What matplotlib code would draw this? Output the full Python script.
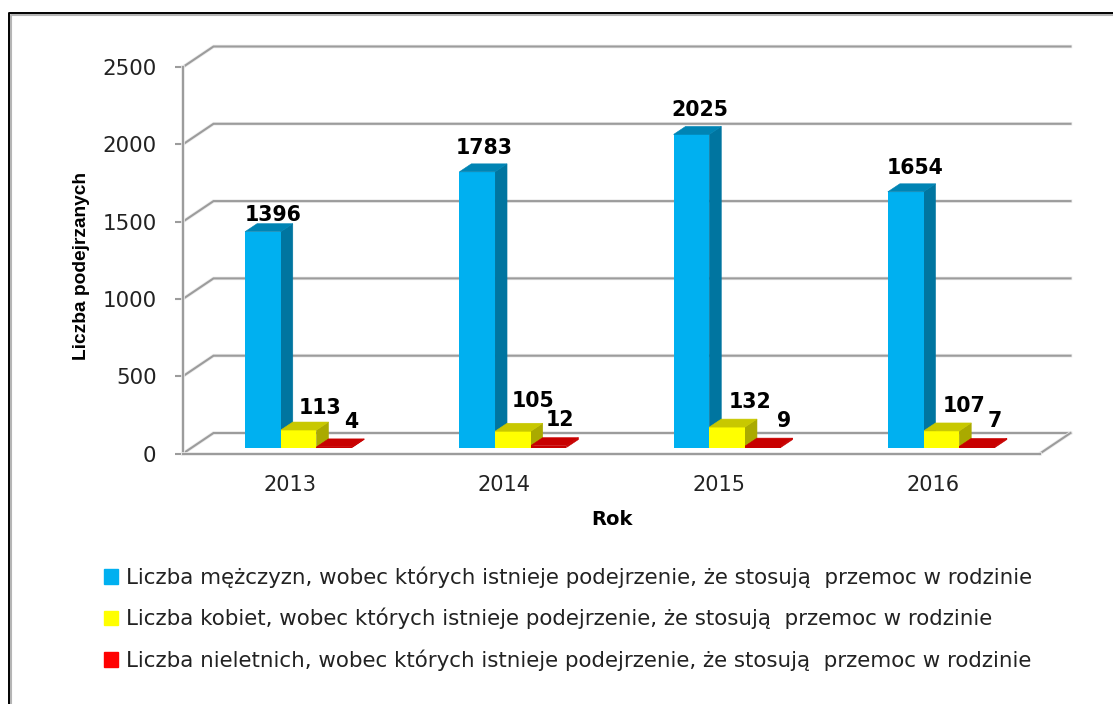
import matplotlib
matplotlib.use("Agg")
import matplotlib.pyplot as plt
import matplotlib.patheffects as pe
from matplotlib.lines import Line2D
from matplotlib.patches import Patch, Polygon

years = ["2013", "2014", "2015", "2016"]
men = [1396, 1783, 2025, 1654]
women = [113, 105, 132, 107]
minors = [4, 12, 9, 7]
y_ticks = [0, 500, 1000, 1500, 2000, 2500]

men_label = "Liczba mężczyzn, wobec których istnieje podejrzenie, że stosują  przemoc w rodzinie"
women_label = "Liczba kobiet, wobec których istnieje podejrzenie, że stosują  przemoc w rodzinie"
minors_label = "Liczba nieletnich, wobec których istnieje podejrzenie, że stosują  przemoc w rodzinie"

# label nudges in pixels, placed by hand in the original
men_nudge = [(10, 7), (7, 14), (8, 14), (9, 14)]
women_nudge = [(21, 12), (20, 20), (23, 15), (23, 15)]
minors_nudge = [(17, 15), (11, 16), (21, 15), (18, 15)]

GREY = "#9c9c9c"
TEXT = "#222222"
soft = [pe.withStroke(linewidth=2.6, foreground="#ececec")]

W, H = 1113, 704
fig = plt.figure(figsize=(W / 100, H / 100), dpi=100)
ax = fig.add_axes([183 / W, 1 - 453.5 / H, 857 / W, 386.5 / H])
ax.set_xlim(-0.5, 3.5)
ax.set_ylim(0, 2500)
ax.patch.set_alpha(0)

# pixels to data units, used for the fake 3D depth
ux = 4 / 857
uy = 2500 / 386.5
wall_dx, wall_dy = 30.5 * ux, 20.5 * uy
bar_dx, bar_dy = 8.5 * ux, 6 * uy
side_dx, side_dy = 12 * ux, 8 * uy
bar_w = 35.7 * ux

# back wall gridlines and floor
for t in y_ticks:
    ax.plot([-0.5, -0.5 + wall_dx, 3.5 + wall_dx], [t, t + wall_dy, t + wall_dy],
            color=GREY, lw=1.5, clip_on=False, zorder=1, solid_joinstyle="miter", path_effects=soft)
ax.plot([3.5, 3.5 + wall_dx], [0, wall_dy], color=GREY, lw=1.5, clip_on=False, zorder=1, path_effects=soft)


def draw_bars(pos, values, front, top, side, nudges):
    for i, v in enumerate(values):
        x0 = i + pos - bar_w / 2 + bar_dx
        x1 = x0 + bar_w
        y0 = bar_dy
        y1 = bar_dy + v
        ax.bar(x0, v, width=bar_w, bottom=y0, align="edge", color=front, zorder=3)
        ax.add_patch(Polygon([(x0, y1), (x1, y1), (x1 + side_dx, y1 + side_dy), (x0 + side_dx, y1 + side_dy)],
                             closed=True, color=top, lw=0.4, clip_on=False, zorder=3))
        ax.add_patch(Polygon([(x1, y0), (x1, y1), (x1 + side_dx, y1 + side_dy), (x1 + side_dx, y0 + side_dy)],
                             closed=True, color=side, lw=0.4, clip_on=False, zorder=2.5))
        ax.annotate(str(v), xy=((x0 + x1) / 2, y1), xytext=nudges[i], textcoords="offset pixels",
                    ha="center", va="bottom", fontsize=14.8, fontweight="bold", color="black",
                    annotation_clip=False, zorder=5)


# minors come first so the yellow side covers the back of the flat red bars
draw_bars(bar_w, minors, "#C80000", "#C80000", "#C80000", minors_nudge)
draw_bars(0, women, "#FFFF00", "#C8C800", "#AAAA00", women_nudge)
draw_bars(-bar_w, men, "#00B0F0", "#0084B4", "#0075A0", men_nudge)

for s in ["top", "right"]:
    ax.spines[s].set_visible(False)
for s in ["left", "bottom"]:
    ax.spines[s].set_color(GREY)
    ax.spines[s].set_linewidth(1.5)
    ax.spines[s].set_zorder(4)
    ax.spines[s].set_path_effects(soft)

ax.set_xticks(range(4), years)
ax.set_yticks(y_ticks)
ax.tick_params(axis="x", length=0, pad=15.5, labelsize=15, labelcolor=TEXT)
ax.tick_params(axis="y", length=6, width=1.5, color=GREY, pad=13, labelsize=15.4, labelcolor=TEXT)

ax.set_xlabel("Rok", fontsize=14, fontweight="bold", color="black", labelpad=11)
ax.set_ylabel("Liczba podejrzanych", fontsize=13.8, fontweight="bold", color="black",
              family="Liberation Sans")
ax.yaxis.set_label_coords(-0.108, 0.485)

handles = [Patch(color="#00B0F0", label=men_label),
           Patch(color="#FFFF00", label=women_label),
           Patch(color="#FF0000", label=minors_label)]
fig.legend(handles=handles, loc="upper left", bbox_to_anchor=(98 / W, 1 - 560 / H), frameon=False,
           fontsize=15.38, handlelength=0.65, handleheight=0.65, handletextpad=0.38,
           labelspacing=0.94, labelcolor=TEXT, borderaxespad=0, borderpad=0.3)

# chart frame, runs off the crop on the right and at the bottom
fig.add_artist(Line2D([10.5 / W, 10.5 / W, 1], [0, 1 - 14.5 / H, 1 - 14.5 / H], color="#b5b5b5", lw=1.5))
fig.add_artist(Line2D([8.8 / W, 8.8 / W, 1], [0, 1 - 12.8 / H, 1 - 12.8 / H], color="black", lw=1.4))

fig.savefig("out.png", dpi=100)
